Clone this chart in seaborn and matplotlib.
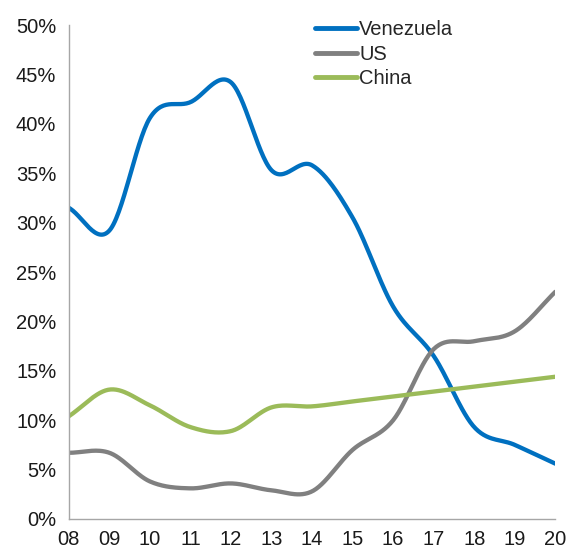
import numpy as np
import pandas as pd
import matplotlib
matplotlib.use("Agg")
import matplotlib.pyplot as plt
import seaborn as sns
from matplotlib.ticker import FuncFormatter

years = ["08", "09", "10", "11", "12", "13", "14", "15", "16", "17", "18", "19", "20"]
venezuela = [31.5, 29.2, 40.6, 42.2, 44.2, 35.3, 35.8, 30.5, 21.5, 16.5, 9.3, 7.5, 5.6]
us = [6.7, 6.7, 3.8, 3.1, 3.6, 2.9, 2.8, 7.0, 10.0, 17.2, 18.0, 19.0, 23.0]
china = [10.4, 13.1, 11.5, 9.3, 8.9, 11.3, 11.4, 11.9, 12.4, 12.9, 13.4, 13.9, 14.4]
series_names = ["Venezuela", "US", "China"]
colors = ["#0070C0", "#808080", "#9BBB59"]


def smooth(y, n=30):
    # Catmull-Rom (Excel-like smoothed line) rendering of the data points
    y = np.asarray(y, float)
    x = np.arange(len(y), dtype=float)
    P = np.concatenate([[2 * y[0] - y[1]], y, [2 * y[-1] - y[-2]]])
    xs, ys = [], []
    for i in range(len(y) - 1):
        p0, p1, p2, p3 = P[i], P[i + 1], P[i + 2], P[i + 3]
        t = np.linspace(0, 1, n, endpoint=False)
        v = 0.5 * ((2 * p1) + (-p0 + p2) * t + (2 * p0 - 5 * p1 + 4 * p2 - p3) * t ** 2
                   + (-p0 + 3 * p1 - 3 * p2 + p3) * t ** 3)
        xs.append(x[i] + t)
        ys.append(v)
    xs.append([x[-1]])
    ys.append([y[-1]])
    return np.concatenate(xs), np.concatenate(ys)


frames = []
for name, vals in zip(series_names, [venezuela, us, china]):
    sx, sy = smooth(vals)
    frames.append(pd.DataFrame({"x": sx, "y": sy / 100.0, "series": name}))
df = pd.concat(frames, ignore_index=True)

sns.set_style("white")
plt.rcParams["font.family"] = ["Liberation Sans", "DejaVu Sans"]

fig = plt.figure(figsize=(5.69, 5.5), dpi=100)
ax = fig.add_axes([0.121, 0.0564, 0.855, 0.898])
sns.lineplot(data=df, x="x", y="y", hue="series", palette=dict(zip(series_names, colors)),
             linewidth=3.1, ax=ax, sort=False, estimator=None)

ax.set_xlim(0, 12)
ax.set_ylim(0, 0.5)
ax.set_xticks(range(len(years)))
ax.set_xticklabels(years)
ax.set_yticks(np.arange(0, 0.51, 0.05))
ax.yaxis.set_major_formatter(FuncFormatter(lambda v, p: f"{v*100:.0f}%"))
ax.set_xlabel("")
ax.set_ylabel("")
for s in ["top", "right"]:
    ax.spines[s].set_visible(False)
for s in ["left", "bottom"]:
    ax.spines[s].set_color("#A6A6A6")
    ax.spines[s].set_linewidth(1.0)
ax.tick_params(axis="both", which="major", labelsize=14.5, colors="#A6A6A6",
               labelcolor="#1a1a1a", length=5, width=1.0, direction="out")
ax.tick_params(axis="x", pad=3)
ax.tick_params(axis="y", pad=4)
ax.grid(False)

leg = ax.legend(loc="upper left", bbox_to_anchor=(0.506, 1.01), frameon=False, fontsize=14.5,
                handlelength=2.1, handletextpad=0.1, labelspacing=0.27, borderaxespad=0,
                borderpad=0)
for line in leg.get_lines():
    line.set_linewidth(3.5)

fig.savefig("out.png", dpi=100)
